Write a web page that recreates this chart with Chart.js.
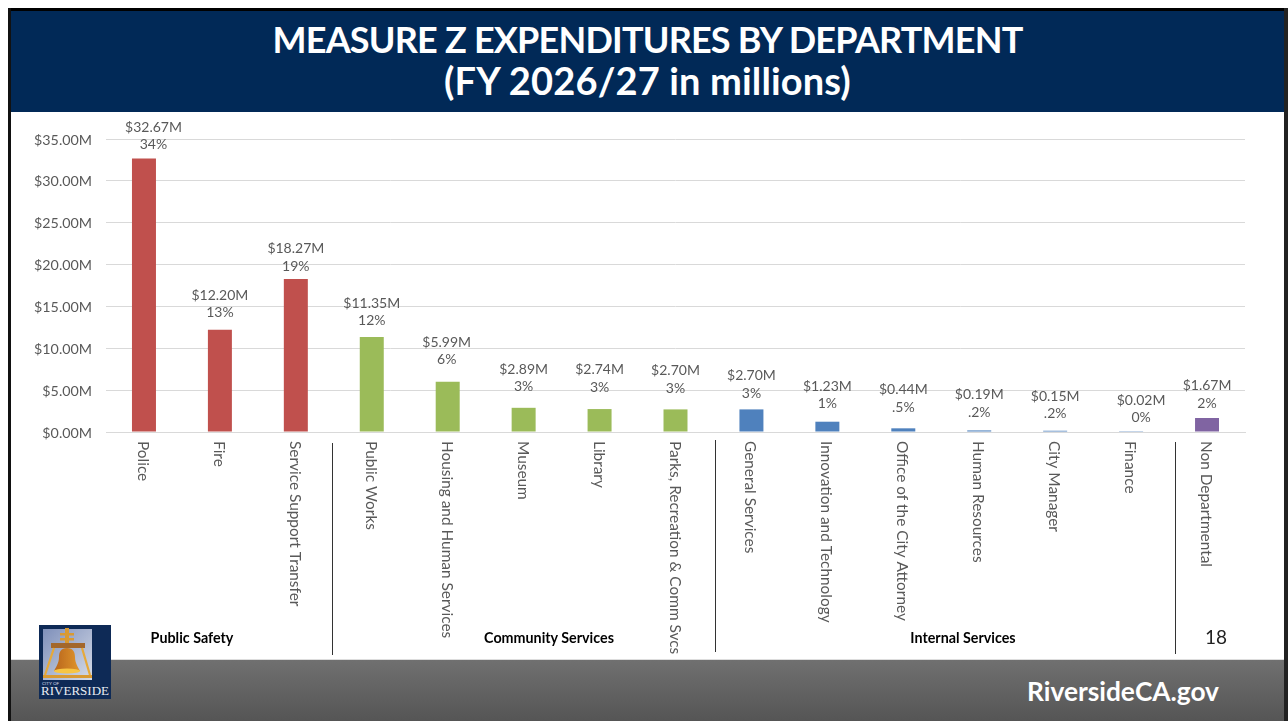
<!DOCTYPE html>
<html>
<head>
<meta charset="utf-8">
<title>Measure Z Expenditures by Department</title>
<script src="https://cdn.jsdelivr.net/npm/chart.js@4/dist/chart.umd.min.js"></script>
<style>
html, body { margin: 0; padding: 0; background: #fff; }
#slide { position: relative; width: 1288px; height: 721px; overflow: hidden; font-family: Lato, sans-serif; }
#slide div { position: absolute; }
#frameTop { left: 8px; top: 8px; right: 0; height: 3px; background: #000; }
#frameLeft { left: 8px; top: 8px; bottom: 0; width: 3px; background: #111; }
#frameRight { right: 0; top: 8px; bottom: 0; width: 4px; background: #222; }
#header { left: 11px; top: 11px; width: 1273px; height: 101px; background: #012957; color: #fff; text-align: center; font-weight: 700; line-height: 41px; }
#header span { display: block; position: relative; top: 8px; }
#judul1 { font-size: 36px; letter-spacing: -0.8px; }
#judul2 { font-size: 38px; letter-spacing: 0.15px; }
#footer { left: 11px; top: 659px; width: 1273px; height: 62px; background: linear-gradient(#707070, #555); border-top: 1px solid #ddd; box-sizing: border-box; }
#site { right: 69px; top: 675px; color: #fff; font-weight: 700; font-size: 26.3px; line-height: 32px; }
.sep { width: 1px; background: #333; }
.group { color: #000; font-weight: 700; font-size: 14.3px; line-height: 16px; transform: translateX(-50%); white-space: nowrap; }
#pageNo { left: 1205px; top: 626px; font-size: 19px; line-height: 22px; color: #222; }
canvas { position: absolute; left: 0; top: 0; }
</style>
</head>
<body>
<div id="slide">
  <div id="header"><span id="judul1">MEASURE Z EXPENDITURES BY DEPARTMENT</span><span id="judul2">(FY 2026/27 in millions)</span></div>
  <div id="footer"></div>
  <div id="frameTop"></div><div id="frameLeft"></div><div id="frameRight"></div>
  <div id="site">RiversideCA.gov</div>
  <div class="sep" style="left:332px;top:443px;height:212px"></div>
  <div class="sep" style="left:715px;top:440px;height:212px"></div>
  <div class="sep" style="left:1175px;top:442px;height:212px"></div>
  <canvas id="grafik" width="1288" height="721"></canvas>
  <div class="group" style="left:192px;top:630px">Public Safety</div>
  <div class="group" style="left:549px;top:630px">Community Services</div>
  <div class="group" style="left:963px;top:630px">Internal Services</div>
  <div id="pageNo">18</div>
  <svg style="position:absolute;left:39px;top:625px" width="72" height="74" viewBox="0 0 72 74">
    <defs>
      <linearGradient id="langit" x1="0" y1="0" x2="1" y2="1"><stop offset="0" stop-color="#7f90ba"/><stop offset="1" stop-color="#d5dbe8"/></linearGradient>
      <linearGradient id="emas" x1="0" y1="0" x2="1" y2="0"><stop offset="0" stop-color="#b8651c"/><stop offset="1" stop-color="#e0962c"/></linearGradient>
    </defs>
    <rect width="72" height="74" fill="#0e2a56"/>
    <rect x="4" y="4" width="49" height="51" fill="url(#langit)"/>
    <g fill="#d99a32">
      <rect x="26" y="3" width="4" height="16"/><rect x="21" y="8" width="14" height="2.5"/><rect x="21" y="13" width="14" height="2.5"/>
      <rect x="4" y="50" width="49" height="3"/>
    </g>
    <rect x="12" y="18" width="34" height="5" fill="#a3672c"/>
    <path d="M15 23 L6 50 M43 23 L51 50" stroke="#e6a93a" stroke-width="2.2" fill="none"/>
    <path d="M28 23 C22 23 20 27 20 32 C20 38 17 42 15 46 L41 46 C39 42 36 38 36 32 C36 27 34 23 28 23 Z" fill="url(#emas)"/>
    <ellipse cx="28" cy="46" rx="13" ry="2.6" fill="#f6c544"/>
    <text x="3" y="60" font-family="Lato" font-size="4.6" fill="#d5dbe8">CITY OF</text>
    <text x="2" y="70" font-family="Liberation Serif" font-size="11.5" fill="#e8ecf2" textLength="68" lengthAdjust="spacingAndGlyphs">RIVERSIDE</text>
  </svg>
</div>
<script>
// nama kategori dan nilai (juta dolar)
const departemen = ["Police", "Fire", "Service Support Transfer", "Public Works", "Housing and Human Services", "Museum", "Library", "Parks, Recreation & Comm Svcs", "General Services", "Innovation and Technology", "Office of the City Attorney", "Human Resources", "City Manager", "Finance", "Non Departmental"]
const nilai = [32.67, 12.20, 18.27, 11.35, 5.99, 2.89, 2.74, 2.70, 2.70, 1.23, 0.44, 0.19, 0.15, 0.02, 1.67]
const persen = ["34%", "13%", "19%", "12%", "6%", "3%", "3%", "3%", "3%", "1%", ".5%", ".2%", ".2%", "0%", "2%"]
const warnaBatang = ["#C0504D", "#C0504D", "#C0504D", "#9BBB59", "#9BBB59", "#9BBB59", "#9BBB59", "#9BBB59", "#4F81BD", "#4F81BD", "#4F81BD", "#4F81BD", "#4F81BD", "#4F81BD", "#8064A2"]

// label digeser manual di slide aslinya: jarak dari puncak batang dan geser horizontal
const jarakLabel = [14, 17, 13, 16, 22, 21, 22, 21, 16, 18, 21, 18, 17, 14, 15]
const geserLabel = [9.5, 0, 0, 0, -1, 0, 0, 0, 0, 0, 0, 0, 0, 10, 0]

const warnaTeks = "#595959"

// label nilai dan nama departemen digambar dari skala chart
const pluginLabel = {
    id: 'pluginLabel',
    afterDraw(chart) {
        const ctx = chart.ctx
        const x = chart.scales.x
        const y = chart.scales.y
        ctx.save()
        ctx.font = "14px Lato"
        ctx.fillStyle = warnaTeks
        ctx.textAlign = 'center'
        ctx.textBaseline = 'middle'
        nilai.forEach((v, i) => {
            const px = x.getPixelForValue(i) + geserLabel[i]
            const py = y.getPixelForValue(v) - jarakLabel[i]
            ctx.fillText('$' + v.toFixed(2) + 'M', px, py - 17.5)
            ctx.fillText(persen[i], px, py)
        })
        // nama departemen, dibaca dari atas ke bawah
        ctx.font = "15.4px Lato"
        ctx.textAlign = 'left'
        departemen.forEach((nama, i) => {
            ctx.save()
            ctx.translate(x.getPixelForValue(i) - 1, 441)
            ctx.rotate(Math.PI / 2)
            ctx.fillText(nama, 0, 0)
            ctx.restore()
        })
        ctx.restore()
    }
}

new Chart(document.getElementById('grafik').getContext('2d'), {
    type: 'bar',
    data: {
        labels: departemen,
        datasets: [{
            data: nilai,
            backgroundColor: warnaBatang,
            barPercentage: 0.316,
            categoryPercentage: 1
        }]
    },
    options: {
        responsive: false,
        animation: false,
        layout: { padding: { left: 0, top: 139, right: 43, bottom: 289 } },
        plugins: { legend: { display: false }, tooltip: { enabled: false } },
        scales: {
            x: {
                ticks: { display: false },
                grid: { display: false },
                border: { color: '#D9D9D9' },
                afterFit(scale) { scale.height = 0 }
            },
            y: {
                min: 0,
                max: 35,
                ticks: {
                    stepSize: 5,
                    padding: 14,
                    labelOffset: 1,
                    color: warnaTeks,
                    font: { family: 'Lato', size: 14.25 },
                    callback: v => '$' + v.toFixed(2) + 'M'
                },
                grid: { color: '#D9D9D9', drawTicks: false },
                border: { display: false },
                afterFit(scale) { scale.width = 106 }
            }
        }
    },
    plugins: [pluginLabel]
})
</script>
</body>
</html>
